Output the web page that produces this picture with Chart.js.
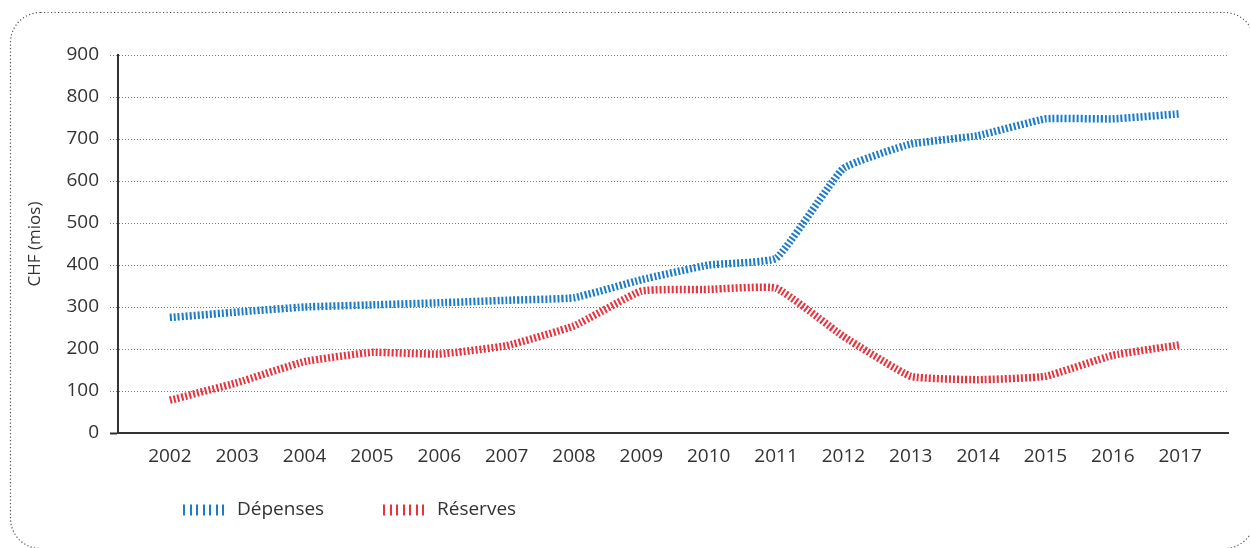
<!DOCTYPE html>
<html><head><meta charset="utf-8">
<script src="https://cdn.jsdelivr.net/npm/chart.js@4"></script>
<style>
html,body{margin:0;padding:0;background:#fff;overflow:hidden}
#wrap{position:relative;width:1250px;height:548px}
#frame{position:absolute;left:0;top:0;pointer-events:none}
canvas{position:absolute;left:0;top:0}
</style></head>
<body><div id="wrap"><canvas id="c" width="1250" height="548"></canvas>
<svg id="frame" width="1250" height="548"><rect x="10.5" y="12.5" width="1244" height="536" rx="30" ry="30" fill="none" stroke="#555" stroke-width="1.2" stroke-dasharray="1.2 2.3"/></svg></div>
<script>
const years = [2002,2003,2004,2005,2006,2007,2008,2009,2010,2011,2012,2013,2014,2015,2016,2017];
const depenses = [275,288,300,305,310,316,322,365,400,416,630,688,708,748,748,760];
const reserves = [78,120,170,192,188,208,255,338,342,345,230,135,127,135,185,210];
const seriesNames = ['Dépenses','Réserves'];
const seriesColors = ['#1a7cc9','#e9323c'];
const yAxisTitle = 'CHF (mios)';

const FONT = '"Open Sans", sans-serif';
const TXT = '#333';

const legendPlugin = {
  id: 'customLegend',
  afterDraw(chart) {
    const ctx = chart.ctx;
    const xs = [183, 383];
    const y = 510;
    ctx.save();
    chart.data.datasets.forEach((ds, i) => {
      const x0 = xs[i];
      ctx.strokeStyle = ds.borderColor;
      ctx.lineWidth = 2;
      for (let k = 0; k < 7; k++) {
        const xx = x0 + 1 + Math.round(k * 6.5);
        ctx.beginPath();
        ctx.moveTo(xx, y - 5.5);
        ctx.lineTo(xx, y + 5.5);
        ctx.stroke();
      }
      ctx.fillStyle = TXT;
      ctx.font = '19px ' + FONT;
      ctx.textBaseline = 'middle';
      ctx.textAlign = 'left';
      ctx.fillText(ds.label, x0 + 54, y);
    });
    ctx.restore();
  }
};

new Chart(document.getElementById('c'), {
  type: 'line',
  data: {
    datasets: [
      { label: seriesNames[0], data: years.map((yr, i) => ({x: yr, y: depenses[i]})), borderColor: seriesColors[0] },
      { label: seriesNames[1], data: years.map((yr, i) => ({x: yr, y: reserves[i]})), borderColor: seriesColors[1] }
    ]
  },
  options: {
    responsive: false,
    animation: false,
    layout: { padding: { top: 55, right: 22, bottom: 0, left: 0 } },
    elements: {
      line: { borderWidth: 7.5, borderDash: [2, 2], borderCapStyle: 'butt', tension: 0.12, fill: false },
      point: { radius: 0, hoverRadius: 0 }
    },
    plugins: { legend: { display: false }, tooltip: { enabled: false } },
    scales: {
      x: {
        type: 'linear',
        min: 2001.23,
        max: 2017.71,
        afterBuildTicks: (axis) => { axis.ticks = years.map(v => ({ value: v })); },
        afterFit: (scale) => { scale.height = 115; },
        grid: { display: false },
        border: { display: true, color: '#333', width: 2 },
        ticks: { autoSkip: false, maxRotation: 0, padding: 4, color: TXT, font: { family: FONT, size: 19 }, callback: v => String(v) }
      },
      y: {
        min: 0, max: 900,
        afterFit: (scale) => { scale.width = 118; },
        border: { display: true, color: '#333', width: 2, dash: [1, 2] },
        grid: {
          color: c => c.tick && c.tick.value === 0 ? 'rgba(0,0,0,0)' : '#777',
          lineWidth: 1,
          tickLength: 8,
          tickColor: c => c.tick && c.tick.value === 0 ? '#333' : '#777',
          tickWidth: c => c.tick && c.tick.value === 0 ? 2 : 1,
          tickBorderDash: c => c.tick && c.tick.value === 0 ? [] : [1, 2]
        },
        ticks: { stepSize: 100, padding: 11, color: TXT, font: { family: FONT, size: 19 } },
        title: { display: true, text: yAxisTitle, color: TXT, font: { family: FONT, size: 17 }, padding: { top: 25, bottom: 0 } }
      }
    }
  },
  plugins: [legendPlugin]
});
</script>
</body></html>
